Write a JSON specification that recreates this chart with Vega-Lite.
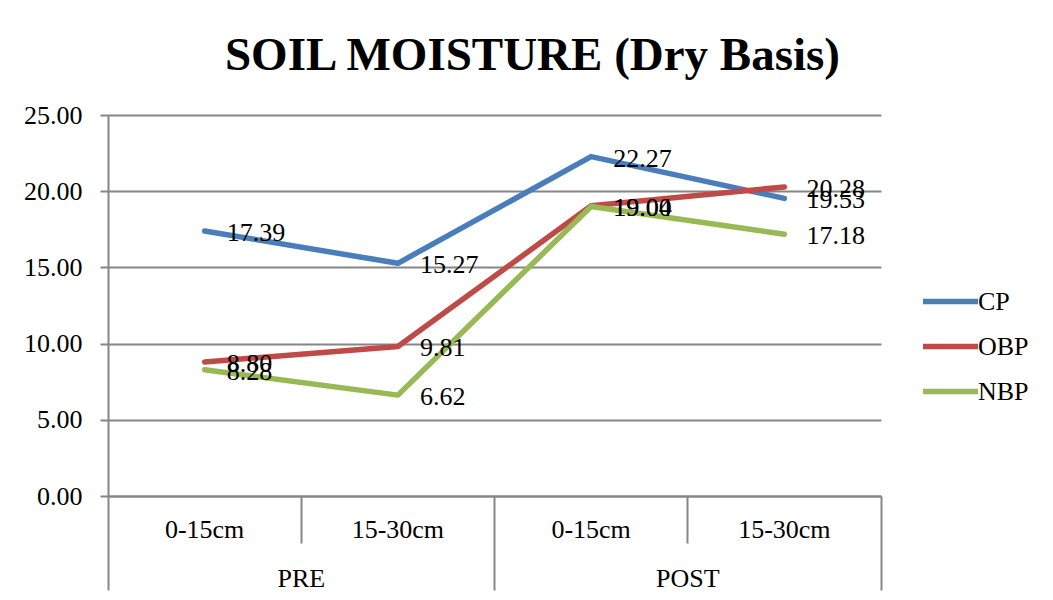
{
  "$schema": "https://vega.github.io/schema/vega-lite/v6.json",
  "width": 773,
  "height": 381,
  "autosize": {"type": "none"},
  "padding": {"left": 108, "top": 115, "right": 172, "bottom": 104},
  "background": "white",
  "config": {
    "view": {"stroke": null},
    "font": "Liberation Serif",
    "axis": {"labelFont": "Liberation Serif", "labelFontSize": 26, "labelColor": "black", "grid": false, "title": null}
  },
  "title": {
    "text": "SOIL MOISTURE (Dry Basis)",
    "font": "Liberation Serif",
    "fontSize": 47,
    "fontWeight": "bold",
    "color": "black",
    "anchor": "middle",
    "dx": 38,
    "offset": 22
  },
  "data": {
    "values": [
      {"series": "CP", "key": "PRE|0-15cm", "value": 17.39},
      {"series": "CP", "key": "PRE|15-30cm", "value": 15.27},
      {"series": "CP", "key": "POST|0-15cm", "value": 22.27},
      {"series": "CP", "key": "POST|15-30cm", "value": 19.53},
      {"series": "OBP", "key": "PRE|0-15cm", "value": 8.80},
      {"series": "OBP", "key": "PRE|15-30cm", "value": 9.81},
      {"series": "OBP", "key": "POST|0-15cm", "value": 19.04},
      {"series": "OBP", "key": "POST|15-30cm", "value": 20.28},
      {"series": "NBP", "key": "PRE|0-15cm", "value": 8.28},
      {"series": "NBP", "key": "PRE|15-30cm", "value": 6.62},
      {"series": "NBP", "key": "POST|0-15cm", "value": 19.00},
      {"series": "NBP", "key": "POST|15-30cm", "value": 17.18}
    ]
  },
  "layer": [
    {
      "mark": {"type": "point", "opacity": 0},
      "encoding": {
        "x": {
          "field": "key", "type": "nominal",
          "sort": ["PRE|0-15cm", "PRE|15-30cm", "POST|0-15cm", "POST|15-30cm"],
          "scale": {"type": "band", "paddingInner": 0, "paddingOuter": 0},
          "axis": {"orient": "bottom", "values": ["PRE|0-15cm", "POST|0-15cm"], "bandPosition": 0, "ticks": true, "tickSize": 94, "tickColor": "#868686", "tickWidth": 2, "domain": false, "labels": false}
        }
      }
    },
    {
      "mark": {"type": "point", "opacity": 0},
      "encoding": {
        "x": {
          "field": "key", "type": "nominal",
          "sort": ["PRE|0-15cm", "PRE|15-30cm", "POST|0-15cm", "POST|15-30cm"],
          "scale": {"type": "band", "paddingInner": 0, "paddingOuter": 0},
          "axis": {"orient": "bottom", "values": ["POST|15-30cm"], "bandPosition": 1, "ticks": true, "tickSize": 94, "tickColor": "#868686", "tickWidth": 2, "domain": false, "labels": false}
        }
      }
    },
    {
      "mark": {"type": "point", "opacity": 0},
      "encoding": {
        "x": {
          "field": "key", "type": "nominal",
          "sort": ["PRE|0-15cm", "PRE|15-30cm", "POST|0-15cm", "POST|15-30cm"],
          "scale": {"type": "band", "paddingInner": 0, "paddingOuter": 0},
          "axis": {"orient": "bottom", "values": ["PRE|15-30cm", "POST|15-30cm"], "bandPosition": 0, "ticks": true, "tickSize": 47, "tickColor": "#868686", "tickWidth": 2, "domain": false, "labels": true, "labelAngle": 0, "labelPadding": 22, "labelOffset": -96.6, "labelExpr": "split(datum.value, '|')[0]"}
        }
      }
    },
    {
      "mark": {"type": "line", "strokeWidth": 5.5, "strokeCap": "round", "strokeJoin": "round"},
      "encoding": {
        "x": {
          "field": "key", "type": "nominal", "bandPosition": 0.5,
          "sort": ["PRE|0-15cm", "PRE|15-30cm", "POST|0-15cm", "POST|15-30cm"],
          "scale": {"type": "band", "paddingInner": 0, "paddingOuter": 0},
          "axis": {"orient": "bottom", "ticks": false, "domain": true, "domainColor": "#868686", "domainWidth": 2, "labelAngle": 0, "labelPadding": 20, "labelExpr": "split(datum.value, '|')[1]"}
        },
        "y": {
          "field": "value", "type": "quantitative",
          "scale": {"domain": [0, 25], "nice": false, "zero": true},
          "axis": {"values": [0, 5, 10, 15, 20, 25], "format": ".2f", "tickSize": 8, "tickColor": "#868686", "tickWidth": 2, "domainColor": "#868686", "domainWidth": 2, "grid": true, "gridColor": "#868686", "gridWidth": 2, "labelPadding": 18}
        },
        "color": {
          "field": "series", "type": "nominal",
          "scale": {"domain": ["CP", "OBP", "NBP"], "range": ["#4A7EBB", "#BE4B48", "#98B954"]},
          "legend": {"orient": "none", "legendX": 812, "legendY": 156, "title": null, "symbolType": "stroke", "symbolStrokeWidth": 5.5, "symbolSize": 3025, "labelFont": "Liberation Serif", "labelFontSize": 26, "labelColor": "black", "labelOffset": -3, "rowPadding": 1, "padding": 0}
        }
      }
    },
    {
      "mark": {"type": "text", "align": "left", "baseline": "middle", "dx": 22, "dy": 2, "font": "Liberation Serif", "fontSize": 26, "color": "black"},
      "encoding": {
        "x": {
          "field": "key", "type": "nominal", "bandPosition": 0.5,
          "sort": ["PRE|0-15cm", "PRE|15-30cm", "POST|0-15cm", "POST|15-30cm"],
          "scale": {"type": "band", "paddingInner": 0, "paddingOuter": 0},
          "axis": null
        },
        "y": {"field": "value", "type": "quantitative"},
        "text": {"field": "value", "type": "quantitative", "format": ".2f"}
      }
    }
  ],
  "resolve": {"axis": {"x": "independent"}}
}
